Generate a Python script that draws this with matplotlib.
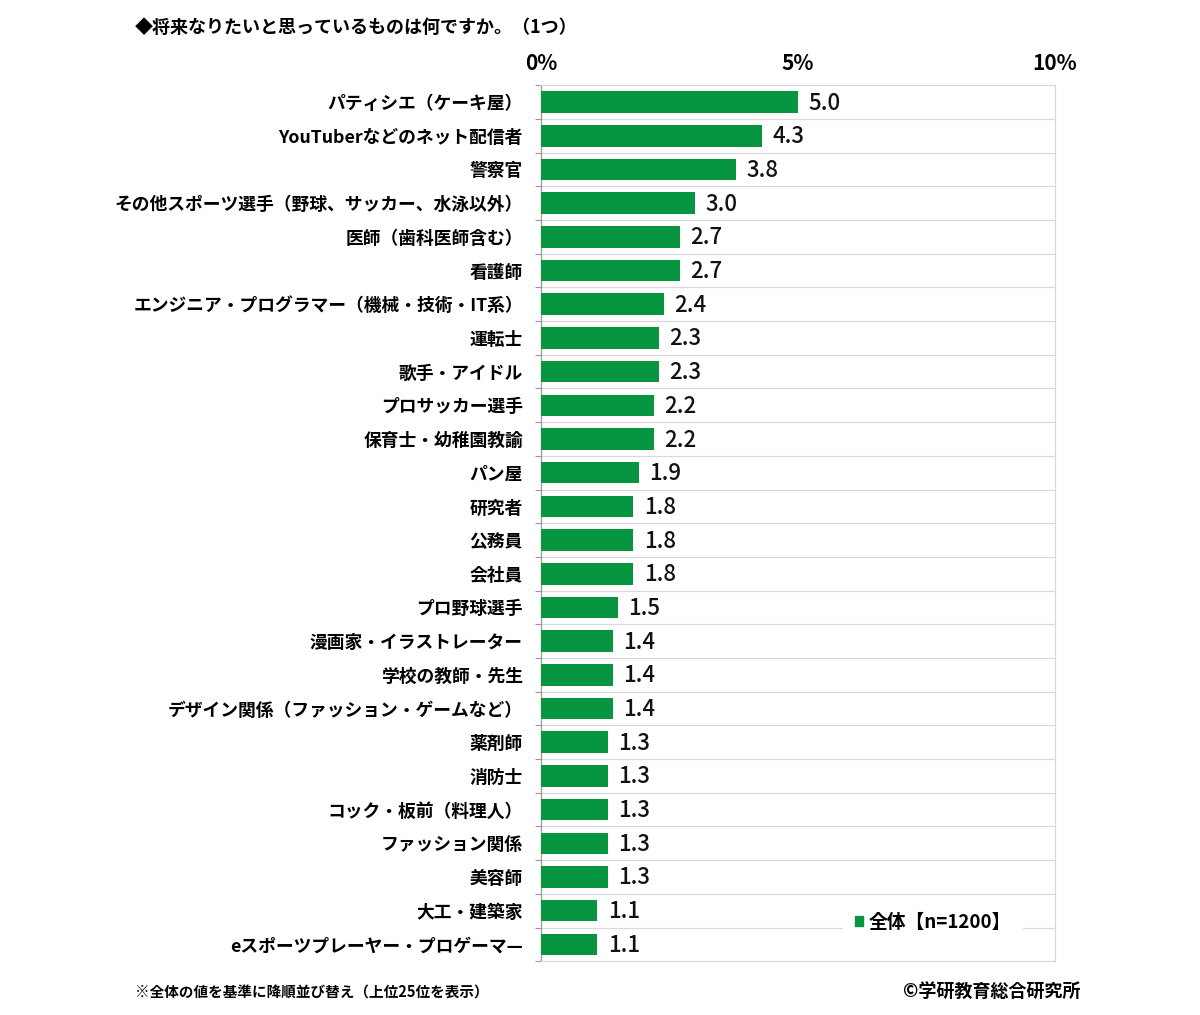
import matplotlib
matplotlib.use('Agg')
import matplotlib.pyplot as plt
from matplotlib.patches import Rectangle

plt.rcParams['font.family'] = ['Noto Sans CJK JP', 'DejaVu Sans']

# ----------------------------------------------------------------------
# Data
# ----------------------------------------------------------------------
title = '◆将来なりたいと思っているものは何ですか。（1つ）'
categories = [
    'パティシエ（ケーキ屋）',
    'YouTuberなどのネット配信者',
    '警察官',
    'その他スポーツ選手（野球、サッカー、水泳以外）',
    '医師（歯科医師含む）',
    '看護師',
    'エンジニア・プログラマー（機械・技術・IT系）',
    '運転士',
    '歌手・アイドル',
    'プロサッカー選手',
    '保育士・幼稚園教諭',
    'パン屋',
    '研究者',
    '公務員',
    '会社員',
    'プロ野球選手',
    '漫画家・イラストレーター',
    '学校の教師・先生',
    'デザイン関係（ファッション・ゲームなど）',
    '薬剤師',
    '消防士',
    'コック・板前（料理人）',
    'ファッション関係',
    '美容師',
    '大工・建築家',
    'eスポーツプレーヤー・プロゲーマ—',
]
values = [5.0, 4.3, 3.8, 3.0, 2.7, 2.7, 2.4, 2.3, 2.3, 2.2, 2.2, 1.9, 1.8, 1.8,
          1.8, 1.5, 1.4, 1.4, 1.4, 1.3, 1.3, 1.3, 1.3, 1.3, 1.1, 1.1]
x_ticks = [0, 5, 10]
x_ticklabels = ['0%', '5%', '10%']
legend_label = '全体【n=1200】'
note = '※全体の値を基準に降順並び替え（上位25位を表示）'
credit = '©学研教育総合研究所'

GREEN = '#07963F'
GRID = '#D9D9D9'

# ----------------------------------------------------------------------
# Figure
# ----------------------------------------------------------------------
fig = plt.figure(figsize=(12, 10.15), dpi=100)
ax = fig.add_axes([0.4508, 0.053, 0.879 - 0.4508, 0.863])

n = len(categories)
ypos = list(range(n))
ax.barh(ypos, values, height=0.64, color=GREEN, zorder=3)
ax.set_ylim(n - 0.5, -0.5)
ax.set_xlim(0, 10)

# value labels
for y, v in zip(ypos, values):
    ax.text(v + 0.2, y + 0.03, f'{v:.1f}', va='center', ha='left',
            fontsize=16, fontweight='medium', color='#111111', zorder=4)

# row separators
for b in range(1, n):
    ax.axhline(b - 0.5, color=GRID, linewidth=0.9, zorder=1)

ax.set_yticks(ypos)
ax.set_yticklabels(categories, fontsize=12.8, fontweight='bold')
ax.tick_params(axis='y', length=0, pad=13)
ax.set_yticks([b - 0.5 for b in range(n + 1)], minor=True)
ax.tick_params(axis='y', which='minor', length=4, color='#999999', width=0.8)

ax.xaxis.tick_top()
ax.set_xticks(x_ticks)
ax.set_xticklabels(x_ticklabels, fontsize=15, fontweight='bold')
ax.tick_params(axis='x', length=0, pad=8)

for s in ['top', 'right', 'bottom']:
    ax.spines[s].set_color(GRID)
    ax.spines[s].set_linewidth(0.9)
ax.spines['left'].set_color('#999999')
ax.spines['left'].set_linewidth(0.9)

# legend (white box covering the gridline)
leg = ax.legend([Rectangle((0, 0), 1, 1, color=GREEN)], [legend_label],
                loc='lower right', bbox_to_anchor=(0.955, 0.01),
                frameon=True, handlelength=0.45, handleheight=0.45,
                handletextpad=0.3, borderpad=0.6, prop={'weight': 'bold', 'size': 13.5})
leg.get_frame().set_edgecolor('white')
leg.get_frame().set_facecolor('white')
leg.get_frame().set_alpha(1)
leg.set_zorder(5)

fig.text(0.1125, 0.973, title, fontsize=13, fontweight='bold', va='center', ha='left')
fig.text(0.1125, 0.022, note, fontsize=10.5, fontweight='bold', va='center', ha='left')
fig.text(0.9, 0.022, credit, fontsize=13, fontweight='bold', va='center', ha='right')

fig.savefig('out.png', dpi=100, facecolor='white')
